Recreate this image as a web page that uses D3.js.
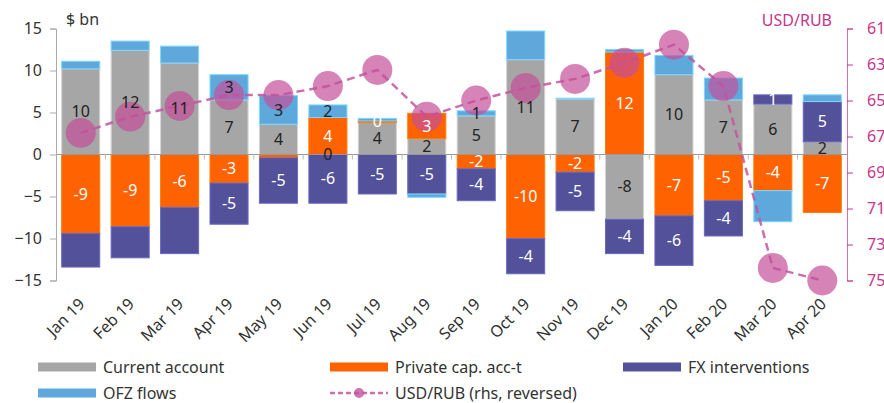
<!DOCTYPE html>
<html>
<head>
<meta charset="utf-8">
<script src="https://cdn.jsdelivr.net/npm/d3@7"></script>
<style>
  body { margin: 0; background: #fff; }
  svg { font-family: "Noto Sans", sans-serif; }
</style>
</head>
<body>
<div id="chart"></div>
<script>
// data
let months = ["Jan 19","Feb 19","Mar 19","Apr 19","May 19","Jun 19","Jul 19","Aug 19",
              "Sep 19","Oct 19","Nov 19","Dec 19","Jan 20","Feb 20","Mar 20","Apr 20"]

let currentAccount = [10.2, 12.4, 10.9, 6.5, 3.6, 0.0, 3.8, 1.9, 4.6, 11.3, 6.6, -7.7, 9.5, 6.5, 6.0, 1.5]
let privateCap     = [-9.4, -8.6, -6.3, -3.4, -0.4, 4.4, 0.2, 3.0, -1.7, -10.0, -2.1, 12.2, -7.3, -5.5, -4.3, -6.9]
let fxInterv       = [-4.0, -3.7, -5.5, -4.9, -5.4, -5.8, -4.7, -4.7, -3.8, -4.2, -4.6, -4.1, -5.9, -4.2, 1.1, 4.8]
let ofzFlows       = [0.9, 1.1, 2.0, 3.0, 3.4, 1.5, 0.3, -0.4, 0.6, 3.4, 0.1, 0.3, 2.3, 2.6, -3.7, 0.8]
let usdRub         = [66.8, 65.9, 65.3, 64.7, 64.7, 64.2, 63.3, 65.9, 65.0, 64.3, 63.8, 62.9, 61.9, 64.2, 74.3, 75.0]

// labels shown on the bars (null = no label)
let caLabels  = ["10","12","11","7","4","0","4","2","5","11","7","-8","10","7","6","2"]
let pcLabels  = ["-9","-9","-6","-3",null,"4","0","3","-2","-10","-2","12","-7","-5","-4","-7"]
let fxLabels  = [null,null,null,"-5","-5","-6","-5","-5","-4","-4","-5","-4","-6","-4","1","5"]
let ofzLabels = [null,null,null,"3","3","2",null,null,"1",null,null,null,null,null,null,null]

let leftTicks = [-15, -10, -5, 0, 5, 10, 15]
let rightTicks = [61, 63, 65, 67, 69, 71, 73, 75]

let width = 884
let height = 403
let plotLeft = 56
let plotRight = 847
let plotTop = 28.5
let plotBottom = 280.5

let series = [
    {key: "ca", name: "Current account", color: "#a6a6a6", text: "#222", values: currentAccount, labels: caLabels},
    {key: "pc", name: "Private cap. acc-t", color: "#ff6200", text: "#fff", values: privateCap, labels: pcLabels},
    {key: "fx", name: "FX interventions", color: "#525199", text: "#fff", values: fxInterv, labels: fxLabels},
    {key: "ofz", name: "OFZ flows", color: "#5ea8dc", text: "#222", values: ofzFlows, labels: ofzLabels}
]
let pink = "#c6358a"

let rows = months.map(function(m, i){
    let r = {month: m}
    series.forEach(function(s){ r[s.key] = s.values[i] })
    return r
})

let svg = d3.select("#chart").append("svg")
    .attr("width", width)
    .attr("height", height)

let xScale = d3.scaleBand()
    .domain(months)
    .range([plotLeft, plotRight])
    .paddingInner(0.23)
    .paddingOuter(0.115)

let yScale = d3.scaleLinear().domain([-15, 15]).range([plotBottom, plotTop])
let y2Scale = d3.scaleLinear().domain([61, 75]).range([plotTop, plotBottom])

let stacked = d3.stack()
    .keys(series.map(function(s){ return s.key }))
    .offset(d3.stackOffsetDiverging)(rows)

// bars
stacked.forEach(function(layer, li){
    let s = series[li]
    let g = svg.append("g")
    g.selectAll("rect").data(layer).enter().append("rect")
        .attr("x", function(d){ return xScale(d.data.month) })
        .attr("width", xScale.bandwidth())
        .attr("y", function(d){ return yScale(Math.max(d[0], d[1])) })
        .attr("height", function(d){ return Math.abs(yScale(d[0]) - yScale(d[1])) })
        .attr("fill", s.color)
        .attr("stroke", d3.color(s.color).brighter(0.7))
        .attr("stroke-width", 1)
})

// zero line and tick marks
svg.append("line")
    .attr("x1", plotLeft).attr("x2", plotRight)
    .attr("y1", yScale(0)).attr("y2", yScale(0))
    .attr("stroke", "#999").attr("stroke-width", 1)

svg.append("g").selectAll("line").data(months.slice(1)).enter().append("line")
    .attr("x1", function(d){ return xScale(d) - xScale.step() * xScale.paddingInner() / 2 })
    .attr("x2", function(d){ return xScale(d) - xScale.step() * xScale.paddingInner() / 2 })
    .attr("y1", yScale(0)).attr("y2", yScale(0) + 5)
    .attr("stroke", "#bbb")

// left axis
let yAxis = d3.axisLeft(yScale).tickValues(leftTicks).tickSize(6).tickPadding(8)
let ya = svg.append("g").attr("transform", `translate(${plotLeft},0)`).call(yAxis)
ya.select(".domain").attr("stroke", "#aaa")
ya.selectAll(".tick line").attr("stroke", "#aaa")
ya.selectAll("text").attr("font-size", 16).attr("fill", "#333").attr("font-family", "Noto Sans")

// right axis
let y2Axis = d3.axisRight(y2Scale).tickValues(rightTicks).tickSize(6).tickPadding(14)
let ya2 = svg.append("g").attr("transform", `translate(${plotRight},0)`).call(y2Axis)
ya2.select(".domain").attr("stroke", pink).attr("stroke-opacity", 0.7)
ya2.selectAll(".tick line").attr("stroke", pink)
ya2.selectAll("text").attr("font-size", 16).attr("fill", pink).attr("font-family", "Noto Sans")

svg.append("text").attr("x", 66).attr("y", 25).attr("font-size", 16).attr("fill", "#333").text("$ bn")
svg.append("text").attr("x", 832).attr("y", 26).attr("font-size", 16).attr("fill", pink)
    .attr("text-anchor", "end").text("USD/RUB")

// USD/RUB line
let line = d3.line()
    .x(function(d, i){ return xScale(months[i]) + xScale.bandwidth() / 2 })
    .y(function(d){ return y2Scale(d) })

svg.append("path").datum(usdRub)
    .attr("d", line)
    .attr("fill", "none")
    .attr("stroke", "#c4549c")
    .attr("stroke-width", 2.5)
    .attr("stroke-dasharray", "8,5")
    .attr("opacity", 0.85)

svg.append("g").selectAll("circle").data(usdRub).enter().append("circle")
    .attr("cx", function(d, i){ return xScale(months[i]) + xScale.bandwidth() / 2 })
    .attr("cy", function(d){ return y2Scale(d) })
    .attr("r", 15)
    .attr("fill", "#c4509a")
    .attr("fill-opacity", 0.7)

// bar labels, drawn over the circles
stacked.forEach(function(layer, li){
    let s = series[li]
    svg.append("g").selectAll("text").data(layer.filter(function(d, i){ return s.labels[i] !== null })).enter()
        .append("text")
        .attr("x", function(d){ return xScale(d.data.month) + xScale.bandwidth() / 2 })
        .attr("y", function(d){ return yScale((d[0] + d[1]) / 2) })
        .attr("dy", "0.35em")
        .attr("text-anchor", "middle")
        .attr("font-size", 16)
        .attr("fill", s.text)
        .text(function(d){ return s.labels[months.indexOf(d.data.month)] })
})

// x labels
svg.append("g").selectAll("text").data(months).enter().append("text")
    .attr("transform", function(d){
        return `translate(${xScale(d) + xScale.bandwidth() / 2 + 5}, 305) rotate(-45)`
    })
    .attr("text-anchor", "end")
    .attr("font-size", 16)
    .attr("fill", "#333")
    .text(function(d){ return d })

// legend
let legendItems = [
    {name: series[0].name, color: series[0].color, x: 38, y: 367},
    {name: series[1].name, color: series[1].color, x: 330, y: 367},
    {name: series[2].name, color: series[2].color, x: 623, y: 367},
    {name: series[3].name, color: series[3].color, x: 38, y: 393}
]
let legend = svg.append("g")
legendItems.forEach(function(it){
    legend.append("rect").attr("x", it.x).attr("y", it.y - 4.5).attr("width", 58).attr("height", 9)
        .attr("fill", it.color)
    legend.append("text").attr("x", it.x + 65).attr("y", it.y).attr("dy", "0.35em")
        .attr("font-size", 16).attr("fill", "#333").text(it.name)
})
legend.append("line").attr("x1", 330).attr("x2", 388).attr("y1", 393).attr("y2", 393)
    .attr("stroke", "#c4549c").attr("stroke-width", 2.5).attr("stroke-dasharray", "5,3").attr("opacity", 0.85)
legend.append("circle").attr("cx", 359).attr("cy", 393).attr("r", 5).attr("fill", "#c4509a").attr("fill-opacity", 0.8)
legend.append("text").attr("x", 395).attr("y", 393).attr("dy", "0.35em")
    .attr("font-size", 16).attr("fill", "#333").text("USD/RUB (rhs, reversed)")
</script>
</body>
</html>
